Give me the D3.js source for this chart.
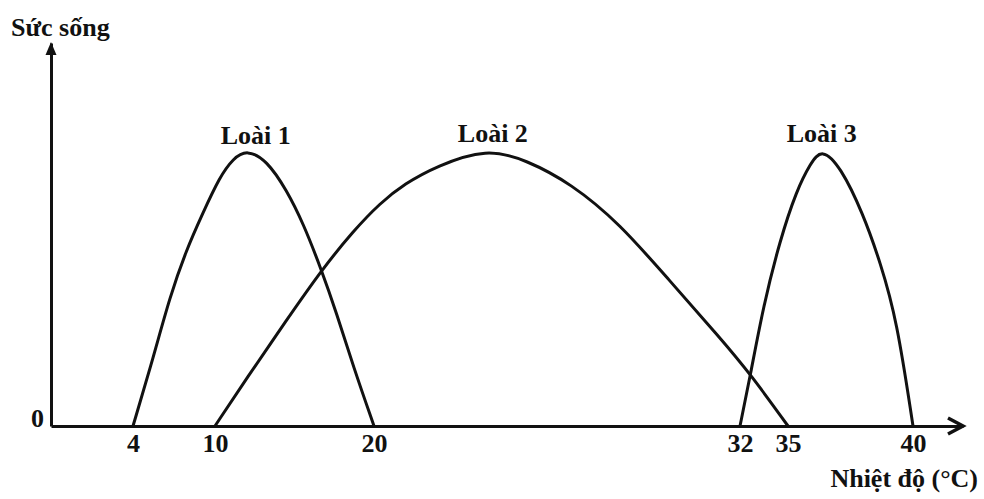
<!DOCTYPE html>
<html lang="vi">
<head>
  <meta charset="UTF-8">
  <title>Sức sống</title>
  <style>
    * {
      margin: 0;
      padding: 0;
    }
    body {
      background: #fff;
    }
    text {
      font-family: "Liberation Serif", "Times New Roman", serif;
      font-weight: bold;
      fill: #111;
    }
  </style>
</head>
<body>
  <script src="https://cdn.jsdelivr.net/npm/d3@7"></script>
  <script>
    const width = 984;
    const height = 499;

    // tick labels on the temperature axis (the axis is drawn schematically, not to scale)
    const xTicks = [4, 10, 20, 32, 35, 40];
    const xBreaks = [0, 4, 10, 20, 32, 35, 40, 42];

    // survival curves: temperature (°C), survival (peak ~ 100)
    const loai1 = [
      [4, 0], [5.5, 25.3], [6.7, 47.3], [7.9, 64.3], [9.1, 77.7],
      [10.3, 91.1], [11.15, 97.8], [12, 101], [13.25, 97.2], [14.5, 86.3],
      [15.55, 74.1], [16.7, 57], [17.65, 41.2], [18.7, 21.7], [20, 0]
    ];
    const loai2 = [
      [10, 0], [12, 17.5], [14.5, 38.7], [16.7, 57], [18.7, 71.3],
      [20.2, 81.5], [21, 88.5], [22.05, 95], [23.7, 101.5], [25, 97.2],
      [26.45, 88.7], [28.05, 74.1], [29.7, 53], [31.35, 32.2],
      [32.65, 19], [35, 0]
    ];
    const loai3 = [
      [32, 0], [32.65, 18.6], [33.45, 43.6], [34.5, 68], [35.35, 86.3],
      [35.9, 96], [36.35, 101.5], [37.1, 94.8], [38, 77.7], [38.7, 59.6],
      [39.35, 39], [40, 0]
    ];
    const species = ['Loài 1', 'Loài 2', 'Loài 3'];
    const series = [loai1, loai2, loai3];

    const fontSize = 26;

    const svg = d3.select('body')
      .append('svg')
      .attr('width', width)
      .attr('height', height)

    // piecewise scale so the ticks land where the drawing puts them
    const xScale = d3.scaleLinear()
      .domain(xBreaks)
      .range([51, 133, 215, 374, 740, 788, 913, 963])

    const yScale = d3.scaleLinear()
      .domain([0, 140])
      .range([426, 43])

    const xAxis = d3.axisBottom(xScale)
      .tickValues(xTicks)
      .tickSize(0)
      .tickSizeOuter(0)
      .tickPadding(8)
      .tickFormat(d3.format('d'))

    const yAxis = d3.axisLeft(yScale)
      .tickValues([0])
      .tickSize(0)
      .tickSizeOuter(0)
      .tickPadding(7)

    const gx = svg.append('g')
      .attr('transform', `translate(0, ${yScale(0)})`)
      .call(xAxis)
    const gy = svg.append('g')
      .attr('transform', `translate(${xScale(0)}, 0)`)
      .call(yAxis)

    for (const g of [gx, gy]) {
      g.select('.domain')
        .attr('stroke', '#111')
        .attr('stroke-width', 3)
      g.selectAll('text')
        .attr('font-family', null)
        .attr('font-size', fontSize)
        .attr('fill', '#111')
    }
    gy.selectAll('text').attr('dy', '0.02em')

    // arrow heads
    const x0 = xScale(0);
    const xEnd = xScale(42);
    const y0 = yScale(0);
    const yEnd = yScale(140);
    svg.append('path')
      .attr('d', `M${x0},${yEnd - 1} L${x0 - 5.5},${yEnd + 12} L${x0 + 5.5},${yEnd + 12} Z`)
      .attr('fill', '#111')
    svg.append('path')
      .attr('d', `M${xEnd - 15},${y0 - 8} L${xEnd},${y0} L${xEnd - 15},${y0 + 8}`)
      .attr('fill', 'none')
      .attr('stroke', '#111')
      .attr('stroke-width', 3.5)
      .attr('stroke-linejoin', 'miter')

    // b-spline smooths the hand-read points into one clean arc
    const line = d3.line()
      .x(d => xScale(d[0]))
      .y(d => yScale(d[1]))
      .curve(d3.curveBasis)

    svg.append('g')
      .selectAll('path')
      .data(series)
      .enter()
      .append('path')
      .attr('d', line)
      .attr('fill', 'none')
      .attr('stroke', '#111')
      .attr('stroke-width', 3)

    // species labels above each peak
    svg.append('g')
      .selectAll('text')
      .data(series)
      .enter()
      .append('text')
      .attr('x', (d, i) => {
        const peak = d3.greatest(d, p => p[1]);
        return xScale(peak[0]) + [9, 6, 0][i];
      })
      .attr('y', d => yScale(d3.max(d, p => p[1])) - 6)
      .attr('text-anchor', 'middle')
      .attr('font-size', fontSize)
      .text((d, i) => species[i])

    svg.append('text')
      .attr('x', 11)
      .attr('y', 36)
      .attr('font-size', fontSize)
      .text('Sức sống')

    svg.append('text')
      .attr('x', 978)
      .attr('y', 487)
      .attr('text-anchor', 'end')
      .attr('font-size', fontSize)
      .text('Nhiệt độ (°C)')
  </script>
</body>
</html>
